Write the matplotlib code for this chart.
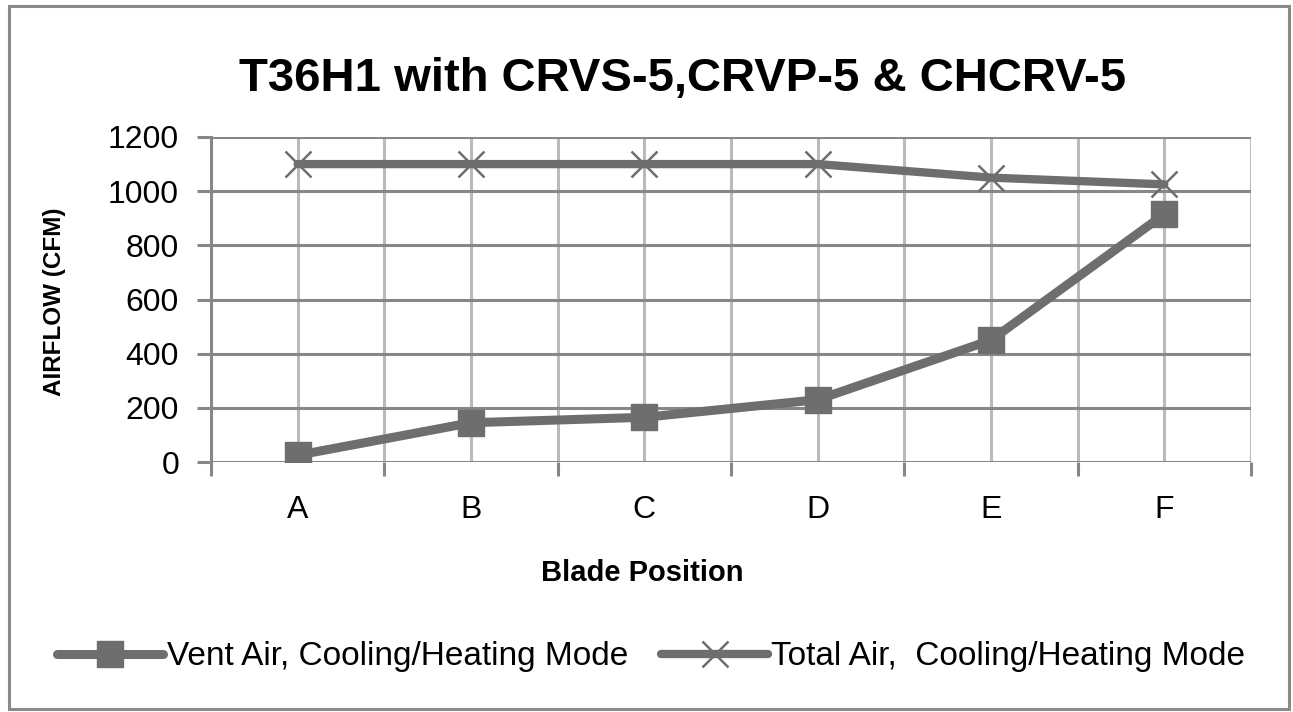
import matplotlib
matplotlib.use("Agg")
import matplotlib.pyplot as plt
from matplotlib.patches import Rectangle
from matplotlib.ticker import FixedLocator

# chart data
positions = ["A", "B", "C", "D", "E", "F"]
vent_air = [25, 145, 165, 230, 450, 915]
total_air = [1100, 1100, 1100, 1100, 1050, 1025]
y_ticks = [0, 200, 400, 600, 800, 1000, 1200]

title = "T36H1 with CRVS-5,CRVP-5 & CHCRV-5"
labels = ["Vent Air, Cooling/Heating Mode", "Total Air,  Cooling/Heating Mode"]

FONT = ["Liberation Sans", "DejaVu Sans"]
LINE = "#6e6e6e"
HGRID = "#878787"
VGRID = "#bababa"

fig = plt.figure(figsize=(12.93, 7.12), dpi=100)
ax = fig.add_axes([211/1293, 1 - 462/712, 1040/1293, 325/712])

x = list(range(len(positions)))
ax.plot(x, vent_air, color=LINE, lw=6.5, marker="s", ms=19, mfc=LINE, mec=LINE,
        solid_joinstyle="round", solid_capstyle="round", label=labels[0], zorder=4)
ax.plot(x, total_air, color=LINE, lw=6, marker="x", ms=19, mew=1.8, mec=LINE,
        solid_joinstyle="round", solid_capstyle="round", label=labels[1], zorder=4)

ax.set_xlim(-0.5, len(positions) - 0.5)
ax.set_ylim(0, 1200)
ax.set_yticks(y_ticks)
ax.set_xticks(x)
ax.set_xticklabels(positions, fontfamily=FONT, fontsize=23)
ax.xaxis.set_minor_locator(FixedLocator([i - 0.5 for i in range(len(positions) + 1)]))
for t in ax.get_yticklabels():
    t.set_fontfamily(FONT)
    t.set_fontsize(23)

ax.tick_params(axis="x", which="major", length=0, pad=24)
ax.tick_params(axis="x", which="minor", length=10, width=2.2, color=HGRID, direction="out")
ax.tick_params(axis="y", length=10, width=2.2, color=HGRID, direction="out", pad=13)

ax.grid(True, axis="y", color=HGRID, lw=2.2, zorder=1)
ax.grid(True, axis="x", which="both", color=VGRID, lw=2.2, zorder=0)
ax.set_axisbelow(True)
for s in ["top", "right", "bottom"]:
    ax.spines[s].set_visible(False)
ax.spines["left"].set_color(HGRID)
ax.spines["left"].set_linewidth(2.2)

fig.text(683/1293, 1 - 79/712, title, ha="center", va="center",
         fontfamily=FONT, fontweight="bold", fontsize=34)
fig.text(642/1293, 1 - 573/712, "Blade Position", ha="center", va="center",
         fontfamily=FONT, fontweight="bold", fontsize=21)
fig.text(54/1293, 1 - 302/712, "AIRFLOW (CFM)", ha="center", va="center",
         rotation=90, fontfamily=FONT, fontweight="bold", fontsize=17.5)

leg = fig.legend(loc="center", bbox_to_anchor=(651/1293, 1 - 657/712), ncol=2,
                 frameon=False, handlelength=3.2, handletextpad=0.1, columnspacing=1.0,
                 prop={"family": FONT, "size": 24})

# outer chart frame
fig.patches.append(Rectangle((9/1293, 1 - 709/712), 1280/1293, 703/712,
                             transform=fig.transFigure, fill=False,
                             edgecolor="#8a8a8a", lw=2.2))

fig.savefig("out.png", dpi=100)
